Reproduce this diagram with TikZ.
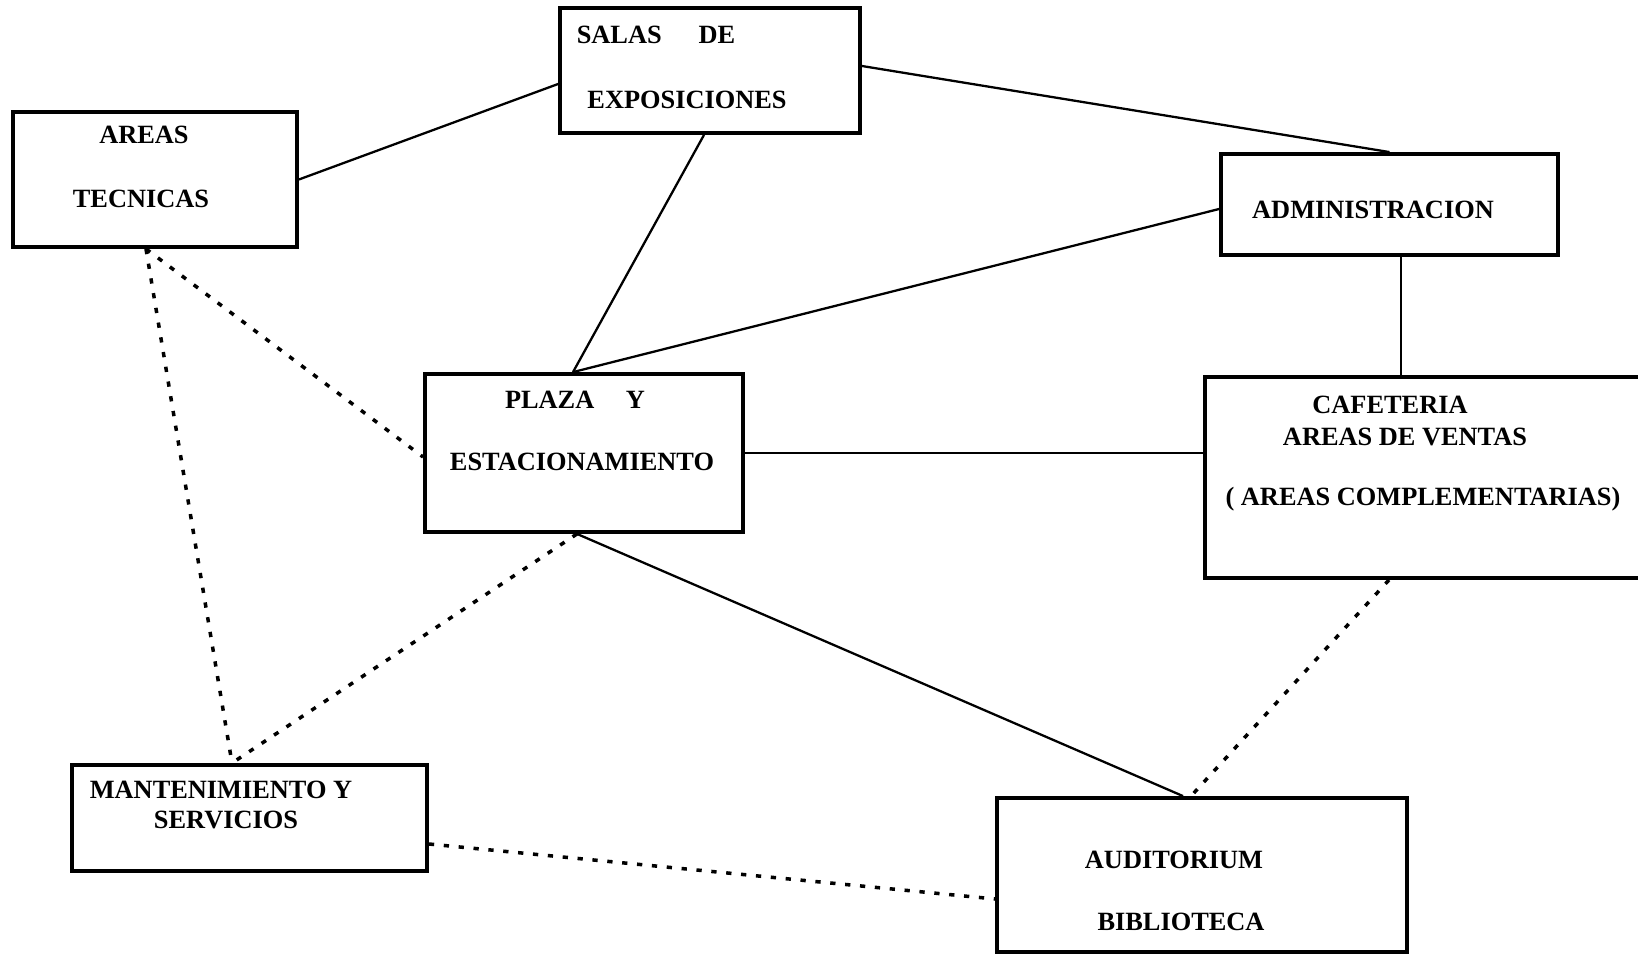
\documentclass[tikz,border=0pt]{standalone}
\usepackage{fontspec}
\setmainfont{Liberation Serif}
\usepackage{tikz}

\begin{document}
\begin{tikzpicture}[x=0.02cm, y=-0.02cm, line cap=butt, line join=miter,
  box/.style={draw, line width=2.2pt, inner sep=0pt},
  lbl/.style={inner sep=0pt, yshift=-0.04cm, font=\fontsize{15pt}{18pt}\selectfont\bfseries},
  link/.style={line width=1.3pt},
  dots/.style={line width=2pt, dash pattern=on 3pt off 5.5pt}]
\clip (0,0) rectangle (1638,955);

% boxes
\node[box, minimum width=6cm, minimum height=2.5cm] (salas) at (710,70.5) {};
\node[box, minimum width=5.68cm, minimum height=2.7cm] (areas) at (155,179.5) {};
\node[box, minimum width=6.74cm, minimum height=2.02cm] (admin) at (1389.5,204.5) {};
\node[box, minimum width=6.36cm, minimum height=3.16cm] (plaza) at (584,453) {};
\node[box, minimum width=8.9cm, minimum height=4.02cm] (cafe) at (1427.5,477.5) {};
\node[box, minimum width=7.1cm, minimum height=2.12cm] (mant) at (249.5,818) {};
\node[box, minimum width=8.2cm, minimum height=3.08cm] (audit) at (1202,875) {};

% texts
\node[lbl] (salas1) at (656,33) {SALAS\hspace{1.4em}DE};
\node[lbl] (salas2) at (687,98) {EXPOSICIONES};
\node[lbl] (areas1) at (144,133) {AREAS};
\node[lbl] (areas2) at (141,197) {TECNICAS};
\node[lbl] (admin1) at (1373,208) {ADMINISTRACION};
\node[lbl] (plaza1) at (575,398) {PLAZA\hspace{1.2em}Y};
\node[lbl] (plaza2) at (582,460) {ESTACIONAMIENTO};
\node[lbl] (cafe1) at (1390,403) {CAFETERIA};
\node[lbl] (cafe2) at (1405,435) {AREAS DE VENTAS};
\node[lbl] (cafe3) at (1423,497) {( AREAS COMPLEMENTARIAS)};
\node[lbl] (mant1) at (221,788) {MANTENIMIENTO Y};
\node[lbl] (mant2) at (226,818) {SERVICIOS};
\node[lbl] (audit1) at (1174,858) {AUDITORIUM};
\node[lbl] (audit2) at (1181,920) {BIBLIOTECA};

% solid links
\coordinate (pz) at ([xshift=-0.22cm]plaza.north);
\draw[link] (areas.east) -- ([yshift=-0.27cm]salas.west);
\draw[link] ([yshift=0.09cm]salas.east) -- (admin.north);
\draw[link] ([xshift=-0.12cm]salas.south) -- (pz);
\draw[link] ([yshift=-0.09cm]admin.west) -- (pz);
\draw[link] ([xshift=0.23cm]admin.south) -- ([xshift=0.23cm]admin.south |- cafe.north);
\draw[link] (plaza.east) -- (plaza.east -| cafe.west);
\draw[link] ([xshift=-0.14cm]plaza.south) -- ([xshift=-0.38cm]audit.north);

% dotted links
\coordinate (ar) at ([xshift=-0.18cm]areas.south);
\coordinate (mt) at ([xshift=-0.35cm]mant.north);
\draw[dots] (ar) -- (mt);
\draw[dots] (ar) -- ([yshift=-0.08cm]plaza.west);
\draw[dots] ([xshift=-0.14cm]plaza.south) -- (mt);
\draw[dots] ([yshift=-0.52cm]mant.east) -- ([yshift=-0.48cm]audit.west);
\draw[dots] ([xshift=-0.77cm]cafe.south) -- ([xshift=-0.22cm]audit.north);
\end{tikzpicture}
\end{document}
